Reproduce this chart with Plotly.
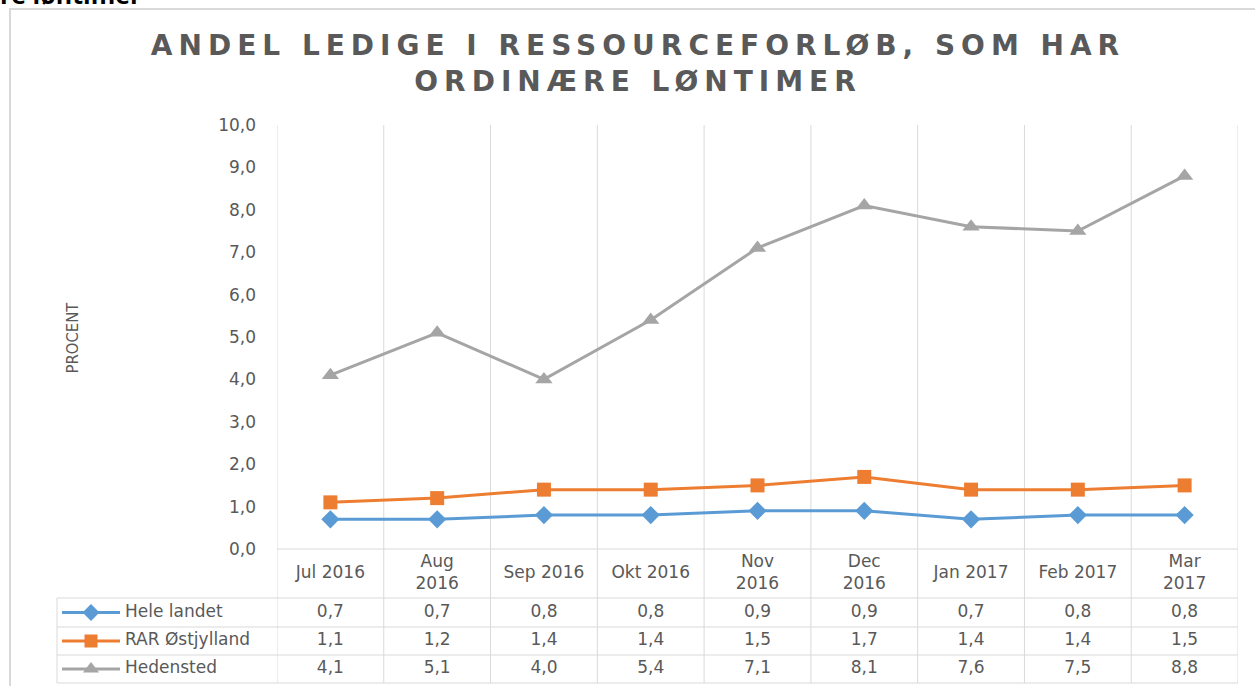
import plotly.graph_objects as go

# ---------------- data ----------------
categories = ["Jul 2016", "Aug 2016", "Sep 2016", "Okt 2016", "Nov 2016",
              "Dec 2016", "Jan 2017", "Feb 2017", "Mar 2017"]
category_labels = ["Jul 2016", "Aug<br>2016", "Sep 2016", "Okt 2016", "Nov<br>2016",
                   "Dec<br>2016", "Jan 2017", "Feb 2017", "Mar<br>2017"]
series_names = ["Hele landet", "RAR Østjylland", "Hedensted"]
hele_landet = [0.7, 0.7, 0.8, 0.8, 0.9, 0.9, 0.7, 0.8, 0.8]
rar_oestjylland = [1.1, 1.2, 1.4, 1.4, 1.5, 1.7, 1.4, 1.4, 1.5]
hedensted = [4.1, 5.1, 4.0, 5.4, 7.1, 8.1, 7.6, 7.5, 8.8]
y_ticks = [0, 1, 2, 3, 4, 5, 6, 7, 8, 9, 10]
title_text = "ANDEL LEDIGE I RESSOURCEFORLØB, SOM HAR<br>ORDINÆRE LØNTIMER"
y_title = "PROCENT"
cut_text = "re løntimer"

series_values = [hele_landet, rar_oestjylland, hedensted]
series_colors = ["#5B9BD5", "#ED7D31", "#A5A5A5"]
series_symbols = ["diamond", "square", "triangle-up"]
series_sizes = [14, 14, 15]

# ---------------- layout geometry (pixels) ----------------
W, H = 1255, 686
PLOT_L, PLOT_R, PLOT_T, PLOT_B = 277, 1238, 125, 549
TABLE_L = 57
ROW_EDGES = [549, 598, 627, 655, 683]
GRID = "#D9D9D9"
TXT = "#595959"
FONT = "DejaVu Sans"


def px(x):
    return x / W


def py(y):
    return 1 - y / H


n = len(categories)
cat_w = (PLOT_R - PLOT_L) / n


def u(xpix):  # pixel -> category units
    return -0.5 + (xpix - PLOT_L) / cat_w


x_idx = list(range(n))
fig = go.Figure()

# main lines
for name, vals, col, sym, sz in zip(series_names, series_values, series_colors,
                                    series_symbols, series_sizes):
    fig.add_trace(go.Scatter(
        x=x_idx, y=vals, mode="lines+markers", name=name,
        line=dict(color=col, width=3),
        marker=dict(symbol=sym, size=sz, color=col, line=dict(width=0)),
        xaxis="x", yaxis="y", showlegend=False, hoverinfo="skip"))

# table header (category labels)
hdr_y = (ROW_EDGES[0] + ROW_EDGES[1]) / 2
fig.add_trace(go.Scatter(
    x=x_idx, y=[hdr_y] * n, mode="text", text=category_labels,
    textposition="middle center", textfont=dict(family=FONT, size=17, color=TXT),
    xaxis="x2", yaxis="y2", showlegend=False, hoverinfo="skip"))

# table rows
for i, (name, vals, col, sym, sz) in enumerate(zip(series_names, series_values,
                                                   series_colors, series_symbols,
                                                   series_sizes)):
    yc = (ROW_EDGES[i + 1] + ROW_EDGES[i + 2]) / 2
    fig.add_trace(go.Scatter(
        x=x_idx, y=[yc] * n, mode="text",
        text=[f"{v:.1f}".replace(".", ",") for v in vals],
        textposition="middle center", textfont=dict(family=FONT, size=17, color=TXT),
        xaxis="x2", yaxis="y2", showlegend=False, hoverinfo="skip"))
    # legend key: line + marker
    fig.add_trace(go.Scatter(
        x=[u(62), u(120)], y=[yc, yc], mode="lines",
        line=dict(color=col, width=3),
        xaxis="x2", yaxis="y2", showlegend=False, hoverinfo="skip"))
    fig.add_trace(go.Scatter(
        x=[u(91)], y=[yc], mode="markers",
        marker=dict(symbol=sym, size=sz - 1, color=col, line=dict(width=0)),
        xaxis="x2", yaxis="y2", showlegend=False, hoverinfo="skip"))
    fig.add_trace(go.Scatter(
        x=[u(125)], y=[yc], mode="text", text=[name], textposition="middle right",
        textfont=dict(family=FONT, size=17, color=TXT),
        xaxis="x2", yaxis="y2", showlegend=False, hoverinfo="skip"))

shapes = []
# outer chart border
shapes.append(dict(type="rect", xref="paper", yref="paper",
                   x0=px(10), x1=px(1275), y0=py(9), y1=py(720),
                   line=dict(color=GRID, width=2), layer="below"))
# vertical grid lines through chart and table
for k in range(n + 1):
    shapes.append(dict(type="line", xref="x", yref="paper",
                       x0=-0.5 + k, x1=-0.5 + k, y0=py(ROW_EDGES[-1]), y1=py(PLOT_T),
                       line=dict(color=GRID, width=1), layer="below"))
# horizontal table lines
shapes.append(dict(type="line", xref="paper", yref="paper",
                   x0=px(PLOT_L), x1=px(PLOT_R), y0=py(ROW_EDGES[0]), y1=py(ROW_EDGES[0]),
                   line=dict(color=GRID, width=1), layer="below"))
for e in ROW_EDGES[1:]:
    shapes.append(dict(type="line", xref="paper", yref="paper",
                       x0=px(TABLE_L), x1=px(PLOT_R), y0=py(e), y1=py(e),
                       line=dict(color=GRID, width=1), layer="below"))
shapes.append(dict(type="line", xref="paper", yref="paper",
                   x0=px(TABLE_L), x1=px(TABLE_L), y0=py(ROW_EDGES[1]), y1=py(ROW_EDGES[-1]),
                   line=dict(color=GRID, width=1), layer="below"))

annotations = [
    dict(text=y_title, xref="paper", yref="paper", x=px(60), y=py(338),
         textangle=-90, showarrow=False,
         font=dict(family="DejaVu Sans Condensed, Liberation Sans Narrow, Liberation Sans",
                   size=16.5, color=TXT)),
    dict(text="<b>" + cut_text + "</b>", xref="paper", yref="paper",
         x=px(-2), y=py(-6), xanchor="left", yanchor="middle", showarrow=False,
         font=dict(family="Open Sans", size=25, color="#000000")),
]

fig.update_layout(
    width=W, height=H,
    margin=dict(l=0, r=0, t=0, b=0, autoexpand=False),
    paper_bgcolor="white", plot_bgcolor="rgba(0,0,0,0)",
    separators=", ",
    title=dict(text=title_text, x=px(638), xanchor="center",
               y=py(55), yanchor="middle", yref="paper",
               font=dict(family=FONT, size=28, color=TXT, weight="bold")),
    xaxis=dict(domain=[px(PLOT_L), px(PLOT_R)], range=[-0.5, n - 0.5],
               showgrid=False, zeroline=False, showticklabels=False, showline=False,
               fixedrange=True, automargin=False),
    yaxis=dict(domain=[py(PLOT_B), py(PLOT_T)], range=[0, 10], tickvals=y_ticks,
               tickformat=".1f", showgrid=False, zeroline=False, showline=False,
               ticks="", ticklabelstandoff=20, automargin=False,
               tickfont=dict(family=FONT, size=17, color=TXT)),
    xaxis2=dict(domain=[px(TABLE_L), px(PLOT_R)], range=[u(TABLE_L), n - 0.5],
                anchor="y2", visible=False),
    yaxis2=dict(domain=[py(ROW_EDGES[-1]), py(ROW_EDGES[0])],
                range=[ROW_EDGES[-1], ROW_EDGES[0]], anchor="x2", visible=False),
    shapes=shapes, annotations=annotations,
)

post = ("document.body.style.margin='0';document.body.style.overflow='hidden';"
        "document.querySelectorAll('.gtitle').forEach(function(e){"
        "e.style.letterSpacing='6px';});")
fig.write_html("out.html", post_script=post, config={"displayModeBar": False})
